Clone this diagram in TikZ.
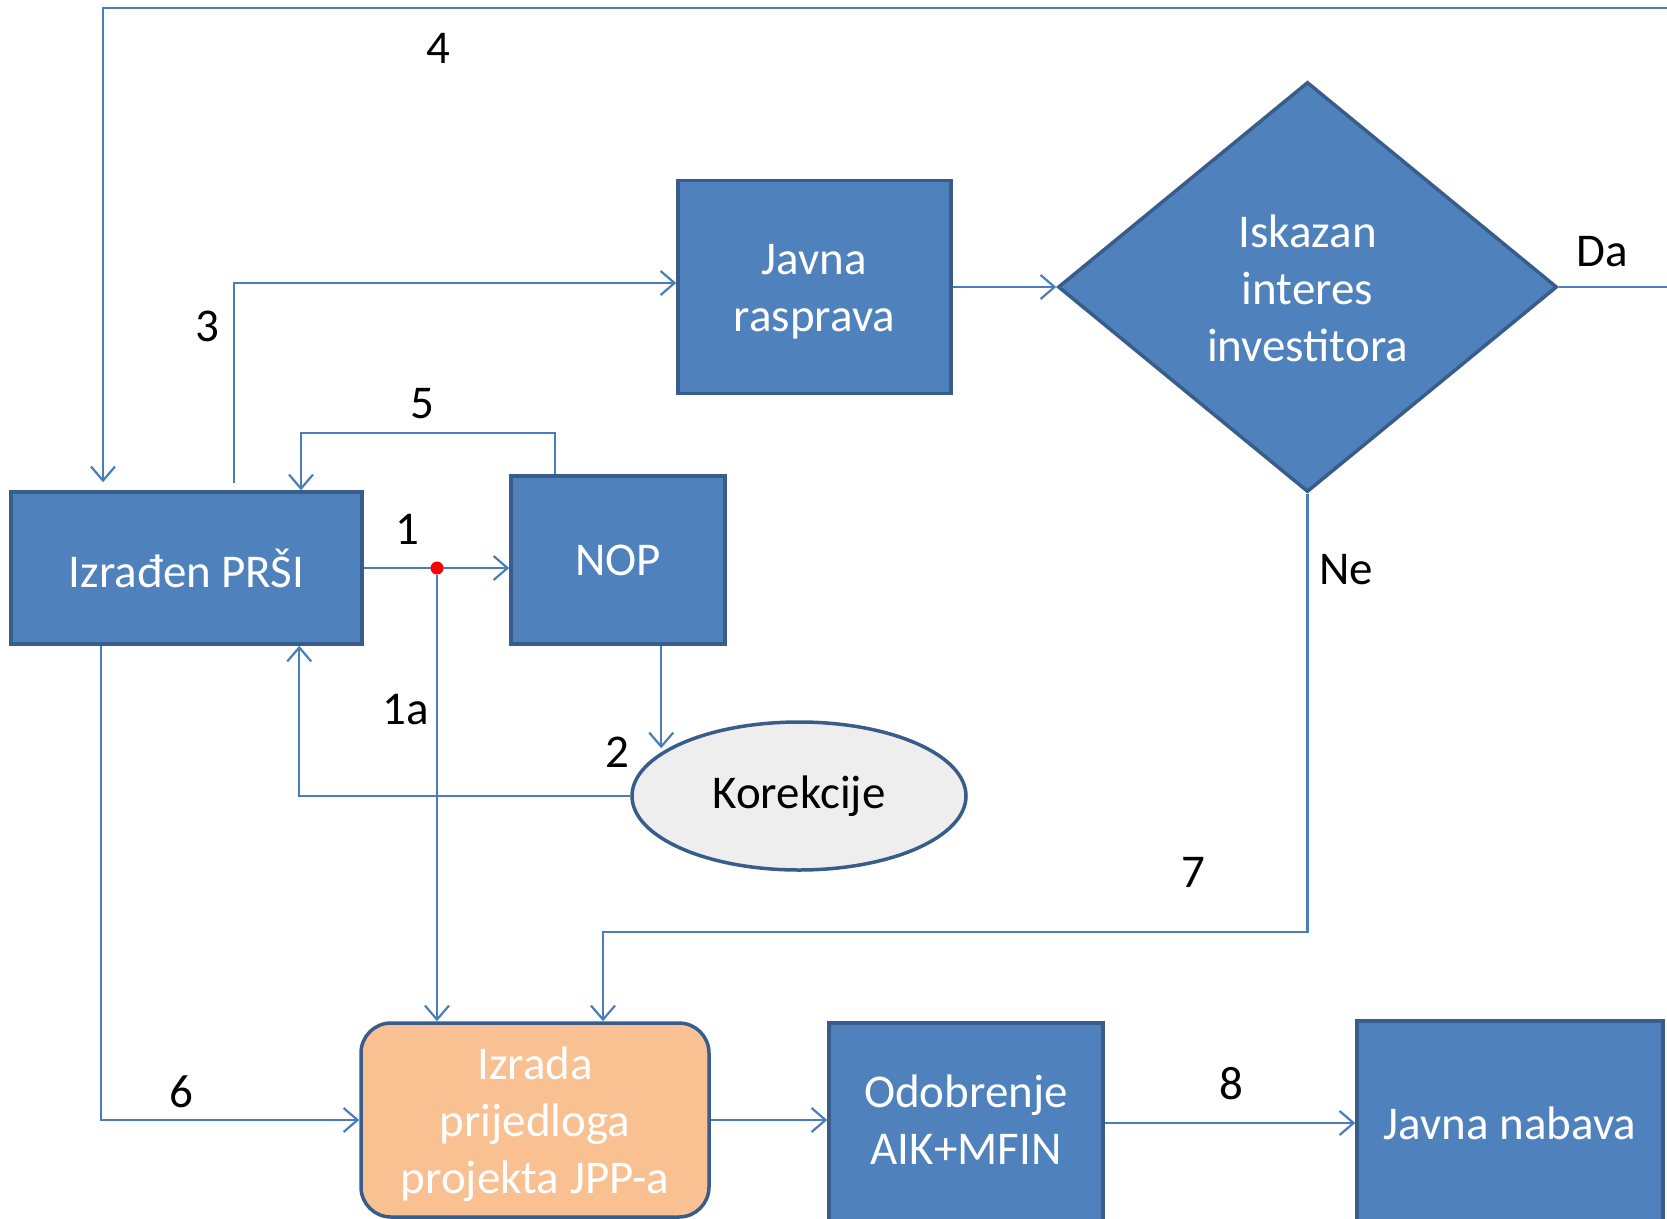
\documentclass[tikz,border=0pt]{standalone}
\usepackage{fontspec}
\setmainfont{Carlito}
\usetikzlibrary{shapes.geometric,arrows.meta}
\definecolor{boxblue}{HTML}{4F81BD}
\definecolor{boxedge}{HTML}{385D8A}
\definecolor{linkblue}{HTML}{4A7EBB}
\definecolor{peach}{HTML}{F9C091}
\definecolor{lightgray}{HTML}{EEEEEE}
\tikzset{
  txt/.style={font=\fontsize{47}{57}\selectfont},
  bluebox/.style={txt, draw=boxedge, line width=3.5pt, fill=boxblue, text=white, align=center, inner sep=0pt},
  conn/.style={draw=linkblue, line width=2.2pt, -{Straight Barb[length=14pt,width=24pt,line width=2.2pt]}},
  plain/.style={draw=linkblue, line width=2.2pt},
  lbl/.style={txt, text=black, inner sep=0pt}
}
\begin{document}
\begin{tikzpicture}[x=1pt,y=-1pt]
\useasboundingbox (0,0) rectangle (1667,1218);
% nodes
\node[bluebox, minimum width=351pt, minimum height=152pt] (izr) at (186.5,568) {Izrađen PRŠI};
\node[bluebox, minimum width=214pt, minimum height=168pt] (nop) at (618,560) {NOP};
\node[bluebox, minimum width=273pt, minimum height=213pt] (jr) at (814.5,287) {\raisebox{-5pt}[\height][\depth]{\begin{tabular}{@{}c@{}}Javna\\rasprava\end{tabular}}};
\node[bluebox, diamond, minimum width=499pt, minimum height=410pt] (dia) at (1307.5,287) {\raisebox{-6pt}[\height][\depth]{\begin{tabular}{@{}c@{}}Iskazan\\interes\\investitora\end{tabular}}};
\node[txt, ellipse, draw=boxedge, line width=3.5pt, fill=lightgray, minimum width=334pt, minimum height=148pt, inner sep=0pt] (kor) at (799,796) {Korekcije};
\node[bluebox, fill=peach, rounded corners=30pt, minimum width=348pt, minimum height=194pt] (jpp) at (535,1120) {\raisebox{-5pt}[\height][\depth]{\begin{tabular}{@{}c@{}}Izrada\\prijedloga\\projekta JPP-a\end{tabular}}};
\node[bluebox, minimum width=274pt, minimum height=200pt] (odo) at (966,1123) {\raisebox{-2pt}[\height][\depth]{\begin{tabular}{@{}c@{}}Odobrenje\\AIK+MFIN\end{tabular}}};
\node[bluebox, minimum width=306pt, minimum height=204pt] (jn) at (1510,1123) {Javna nabava};
% coordinates
\coordinate (t4r) at (1690,8);
\coordinate (t4l) at (103,8);
\coordinate (k5) at (301,433);
\coordinate (daend) at (1690,287);
\coordinate (k7) at (603,932);
\coordinate (n2) at ([xshift=152pt]nop.south west);
\coordinate (n5) at ([xshift=46pt]nop.north west);
\coordinate (n3) at ([xshift=225pt,yshift=7pt]izr.north west);
\coordinate (n6) at ([xshift=92pt]izr.south west);
\coordinate (nk) at ([xshift=290pt]izr.south west);
% connectors
\draw[conn, shorten >=8pt] (t4r) -- (t4l) -- (t4l |- izr.north);
\draw[conn] (n3) |- ([yshift=4pt]jr.west);
\draw[conn] (n5) |- (k5) -- (k5 |- izr.north);
\draw[conn] (jr.east) -- (dia.west);
\draw[plain] (dia.east) -- (daend);
\draw[conn] (izr.east) -- (izr.east -| nop.west);
\node[circle, fill=red, inner sep=0pt, minimum size=13pt] (rd) at (437,568) {};
\draw[conn] (rd) -- (rd |- jpp.north);
\draw[conn] (n2) -- (n2 |- kor.160);
\draw[conn] (kor.west) -| (nk);
\draw[conn] (n6) |- (jpp.west);
\draw[conn] (dia.south) |- (k7) -- (k7 |- jpp.north);
\draw[conn] (jpp.east) -- (jpp.east -| odo.west);
\draw[conn] (odo.east) -- (jn.west);
% labels
\node[lbl] (l1) at (407,529) {1};
\node[lbl] (l1a) at (406,710) {1a};
\node[lbl] (l2) at (617,752) {2};
\node[lbl] (l3) at (207,326) {3};
\node[lbl] (l4) at (438,48) {4};
\node[lbl] (l5) at (422,404) {5};
\node[lbl] (l6) at (181,1092) {6};
\node[lbl] (l7) at (1193,872) {7};
\node[lbl] (l8) at (1231,1084) {8};
\node[lbl] (lda) at (1602,252) {Da};
\node[lbl] (lne) at (1346,570) {Ne};
\end{tikzpicture}
\end{document}
